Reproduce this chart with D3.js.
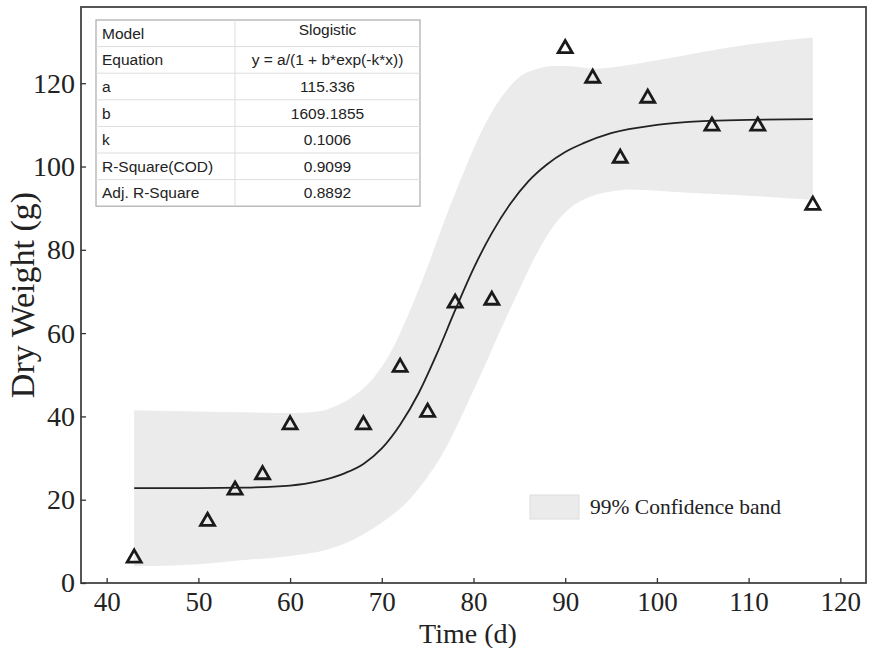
<!DOCTYPE html>
<html><head><meta charset="utf-8">
<script src="https://cdn.jsdelivr.net/npm/d3@7"></script>
<style>body{margin:0;background:#fff}svg{display:block}</style>
</head><body><svg id="c" width="873" height="648"></svg>
<script>
// Observed data points (Time in days, Dry weight in g)
const obsTime = [43, 51, 54, 57, 60, 68, 72, 75, 78, 82, 90, 93, 96, 99, 106, 111, 117];
const obsWeight = [6, 14.8, 22.3, 26, 38, 38, 51.8, 41, 67.2, 67.9, 128.3, 121.2, 102, 116.4, 109.7, 109.7, 90.7];

// Fitted curve
const fitTime = [43, 50, 55, 60, 63, 66, 68, 70, 72, 74, 76, 78, 80, 82, 84, 86, 88, 90, 92, 95, 100, 105, 110, 117];
const fitWeight = [22.8, 22.8, 22.9, 23.4, 24.4, 26.4, 28.6, 32.3, 38, 45.5, 55, 65.5, 75.5, 84, 91, 96.5, 100.5, 103.5, 105.6, 108, 110, 110.9, 111.2, 111.4];

// 99% confidence band edges
const bandUpTime = [43, 50, 55, 60, 63, 65, 67, 69, 71, 73, 75, 77, 79, 81, 83, 85, 87, 89, 91, 93, 95, 100, 105, 110, 117];
const bandUpWeight = [41.5, 41.2, 41, 40.8, 41.2, 42.5, 45, 49, 55.5, 65, 76, 88, 99, 109, 116.5, 121.5, 123.5, 124.2, 124, 123.5, 123.8, 125.5, 127.5, 129.3, 131];
const bandLowTime = [43, 50, 55, 60, 64, 67, 70, 73, 75, 77, 79, 81, 83, 85, 87, 89, 91, 93, 95, 97, 100, 105, 110, 117];
const bandLowWeight = [4, 4.5, 5.5, 6.5, 8, 10.5, 14.5, 20, 25.5, 32.5, 41.5, 51, 61, 70.5, 79.5, 86.5, 90.8, 93, 94, 94.5, 94.2, 93.5, 93, 92];

const xTicks = [40, 50, 60, 70, 80, 90, 100, 110, 120];
const yTicks = [0, 20, 40, 60, 80, 100, 120];

const tableLabels = ["Model", "Equation", "a", "b", "k", "R-Square(COD)", "Adj. R-Square"];
const tableValues = ["Slogistic", "y = a/(1 + b*exp(-k*x))", "115.336", "1609.1855", "0.1006", "0.9099", "0.8892"];

const legendLabel = "99% Confidence band";
const xTitle = "Time (d)";
const yTitle = "Dry Weight (g)";

const svg = d3.select("#c");
const L = 81, R = 866, T = 7, B = 583;
const x = d3.scaleLinear().domain([37.2, 122.8]).range([L, R]);
const y = d3.scaleLinear().domain([0, 138.3]).range([B, T]);
const serif = "'Liberation Serif','Times New Roman',serif";
const sans = "'Liberation Sans',Arial,sans-serif";

// band
const up = bandUpTime.map((t, i) => [t, bandUpWeight[i]]);
const low = bandLowTime.map((t, i) => [t, bandLowWeight[i]]);
const lineGen = d3.line().x(d => x(d[0])).y(d => y(d[1])).curve(d3.curveMonotoneX);
const upPath = lineGen(up);
const lowRev = lineGen(low.slice().reverse());
svg.append("path")
  .attr("d", upPath + "L" + lowRev.slice(1) + "Z")
  .attr("fill", "#ebebeb").attr("stroke", "none");

// fit curve
svg.append("path")
  .attr("d", lineGen(fitTime.map((t, i) => [t, fitWeight[i]])))
  .attr("fill", "none").attr("stroke", "#222").attr("stroke-width", 1.8);

// points
const tri = d3.symbol().type(d3.symbolTriangle).size(85);
svg.append("g").selectAll("path").data(obsTime).join("path")
  .attr("d", tri)
  .attr("transform", (d, i) => `translate(${x(d)},${y(obsWeight[i])})`)
  .attr("fill", "none").attr("stroke", "#1a1a1a").attr("stroke-width", 2.8)
  .attr("stroke-linejoin", "miter");

// frame
svg.append("rect").attr("x", L).attr("y", T).attr("width", R - L).attr("height", B - T)
  .attr("fill", "none").attr("stroke", "#444").attr("stroke-width", 1.8);

// axes
const xAxis = d3.axisBottom(x).tickValues(xTicks).tickSizeInner(-5).tickSizeOuter(0).tickPadding(9);
const gx = svg.append("g").attr("transform", `translate(0,${B})`).call(xAxis);
gx.select(".domain").remove();
gx.selectAll("line").attr("stroke", "#333").attr("stroke-width", 1.3);
gx.selectAll("text").attr("font-family", serif).attr("font-size", 27).attr("fill", "#222");

const yAxis = d3.axisLeft(y).tickValues(yTicks).tickSizeInner(-5).tickSizeOuter(0).tickPadding(6);
const gy = svg.append("g").attr("transform", `translate(${L},0)`).call(yAxis);
gy.select(".domain").remove();
gy.selectAll("line").attr("stroke", "#333").attr("stroke-width", 1.3);
gy.selectAll("text").attr("font-family", serif).attr("font-size", 28).attr("fill", "#222");

svg.append("text").attr("x", 468).attr("y", 643).attr("text-anchor", "middle")
  .attr("font-family", serif).attr("font-size", 28).attr("fill", "#222").text(xTitle);
svg.append("text").attr("transform", `translate(34,${(T + B) / 2}) rotate(-90)`).attr("text-anchor", "middle")
  .attr("font-family", serif).attr("font-size", 34).attr("fill", "#222").text(yTitle);

// table
const tx = 96, ty = 20, tw = 324, rh = 26.6, cx = 235;
const tg = svg.append("g");
tg.append("rect").attr("x", tx).attr("y", ty).attr("width", tw).attr("height", rh * tableLabels.length)
  .attr("fill", "#fff").attr("stroke", "#aaa").attr("stroke-width", 1.2);
tableLabels.forEach((lab, i) => {
  if (i > 0) tg.append("line").attr("x1", tx).attr("x2", tx + tw).attr("y1", ty + rh * i).attr("y2", ty + rh * i)
    .attr("stroke", "#ddd").attr("stroke-width", 1);
  tg.append("text").attr("x", tx + 6).attr("y", ty + rh * i + rh / 2 + 5.5).attr("font-family", sans)
    .attr("font-size", 15.5).attr("fill", "#222").text(lab);
  tg.append("text").attr("x", (cx + tx + tw) / 2).attr("y", ty + rh * i + rh / 2 + (i === 0 ? 2 : 5.5)).attr("text-anchor", "middle")
    .attr("font-family", sans).attr("font-size", 15.5).attr("fill", "#222").text(tableValues[i]);
});
tg.append("line").attr("x1", cx).attr("x2", cx).attr("y1", ty).attr("y2", ty + rh * tableLabels.length)
  .attr("stroke", "#ddd").attr("stroke-width", 1);

// legend
svg.append("rect").attr("x", 530).attr("y", 495).attr("width", 49).attr("height", 24)
  .attr("fill", "#ebebeb").attr("stroke", "#ddd").attr("stroke-width", 1);
svg.append("text").attr("x", 590).attr("y", 514).attr("font-family", serif).attr("font-size", 21.5)
  .attr("fill", "#222").text(legendLabel);
</script></body></html>
